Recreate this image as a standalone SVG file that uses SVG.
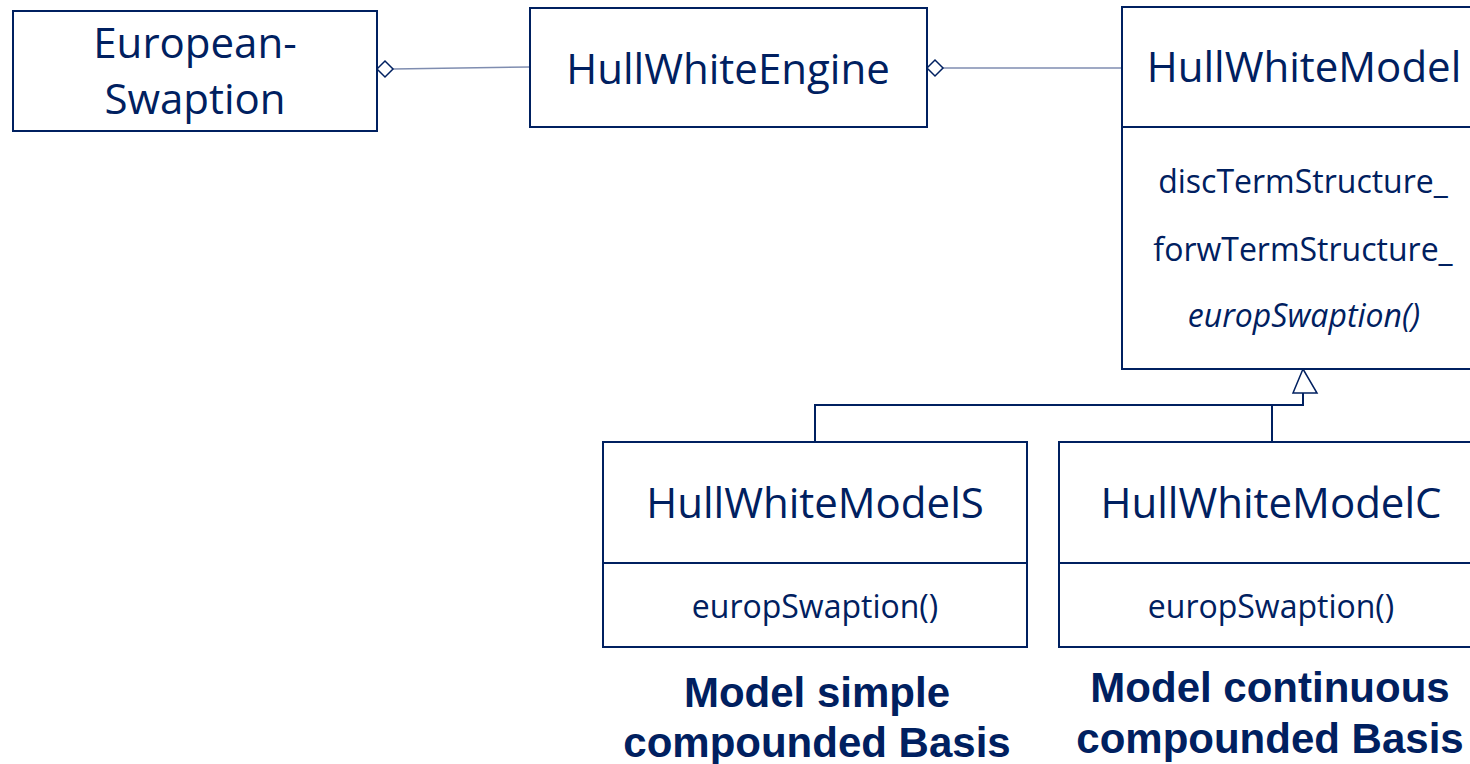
<svg xmlns="http://www.w3.org/2000/svg" width="1470" height="764" viewBox="0 0 1470 764">
<style>
.box{fill:#fff;stroke:#002060;stroke-width:2}
.div{stroke:#002060;stroke-width:2}
.t{font-family:"Open Sans","Noto Sans",sans-serif;fill:#002060;text-anchor:middle}
.title{font-size:42px}
.attr{font-size:32px}
.lbl{font-family:"Liberation Sans",Arial,sans-serif;font-weight:bold;font-size:42px;fill:#002060;text-anchor:middle}
.assoc{stroke:#7f8db0;stroke-width:1.6;fill:none}
.dia{fill:#fff;stroke:#002060;stroke-width:1.5}
.gen{stroke:#002060;stroke-width:2;fill:none}
</style>
<rect width="1470" height="764" fill="#fff"/>
<g id="connectors">
<line class="assoc" x1="393" y1="69" x2="530" y2="67"/>
<polygon class="dia" points="377,69 385,61 393,69 385,77"/>
<line class="assoc" x1="943" y1="68" x2="1122" y2="68"/>
<polygon class="dia" points="927,68 935,60 943,68 935,76"/>
<path class="gen" d="M815,442 V405 H1303 V393"/>
<path class="gen" d="M1272,442 V405"/>
<polygon points="1303,369 1293,393 1317,393" fill="#fff" stroke="#002060" stroke-width="1.5"/>
</g>
<g id="european-swaption">
<rect class="box" x="13" y="11" width="364" height="120"/>
<text class="t title" x="195" y="58">European-</text>
<text class="t title" x="195" y="114">Swaption</text>
</g>
<g id="hullwhite-engine">
<rect class="box" x="530" y="8" width="397" height="119"/>
<text class="t title" x="728" y="84">HullWhiteEngine</text>
</g>
<g id="hullwhite-model">
<rect class="box" x="1122" y="7" width="360" height="362"/>
<line class="div" x1="1122" y1="127" x2="1482" y2="127"/>
<text class="t title" x="1304" y="82">HullWhiteModel</text>
<text class="t attr" x="1303" y="193">discTermStructure_</text>
<text class="t attr" x="1303" y="261">forwTermStructure_</text>
<text class="t attr" x="1304" y="327" font-style="italic" font-size="34">europSwaption()</text>
</g>
<g id="hullwhite-model-s">
<rect class="box" x="603" y="442" width="424" height="205"/>
<line class="div" x1="603" y1="563" x2="1027" y2="563"/>
<text class="t title" x="815" y="518">HullWhiteModelS</text>
<text class="t attr" x="815" y="618">europSwaption()</text>
</g>
<g id="hullwhite-model-c">
<rect class="box" x="1059" y="442" width="424" height="205"/>
<line class="div" x1="1059" y1="563" x2="1483" y2="563"/>
<text class="t title" x="1271" y="518">HullWhiteModelC</text>
<text class="t attr" x="1271" y="618">europSwaption()</text>
</g>
<g id="label-simple">
<text class="lbl" x="817" y="707">Model simple</text>
<text class="lbl" x="817" y="757">compounded Basis</text>
</g>
<g id="label-continuous">
<text class="lbl" x="1270" y="702">Model continuous</text>
<text class="lbl" x="1270" y="753">compounded Basis</text>
</g>
</svg>
